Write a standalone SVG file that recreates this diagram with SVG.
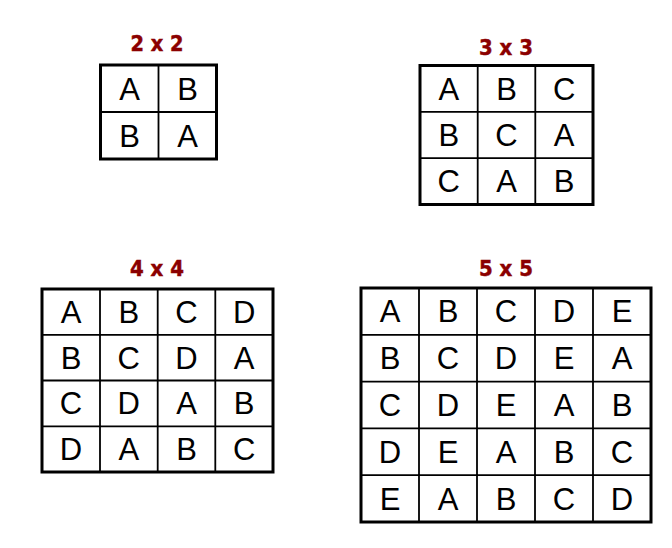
<svg xmlns="http://www.w3.org/2000/svg" width="672" height="548" viewBox="0 0 672 548">
<style>
.title{font-family:"DejaVu Sans",Verdana,sans-serif;font-weight:bold;font-size:21px;fill:#8b0000;stroke:#8b0000;stroke-width:0.5;text-anchor:middle}
.cell{font-family:"Liberation Sans",Arial,sans-serif;font-size:31px;fill:#000;text-anchor:middle}
.outer{fill:#fff;stroke:#000;stroke-width:3}
.inner{stroke:#000;stroke-width:1.8;fill:none}
</style>
<rect width="672" height="548" fill="#fff"/>
<g id="grid2">
<text class="title" x="157" y="51" textLength="53" lengthAdjust="spacingAndGlyphs">2 x 2</text>
<rect class="outer" x="100.5" y="65" width="116" height="94"/>
<path class="inner" d="M158.5 65V159M100.5 112H216.5"/>
<text class="cell" x="129.5" y="99.5">A</text><text class="cell" x="187.5" y="99.5">B</text>
<text class="cell" x="129.5" y="146.5">B</text><text class="cell" x="187.5" y="146.5">A</text>
</g>
<g id="grid3">
<text class="title" x="506" y="54.5" textLength="54" lengthAdjust="spacingAndGlyphs">3 x 3</text>
<rect class="outer" x="420" y="65.5" width="173" height="139"/>
<path class="inner" d="M477.7 65.5V204.5M535.3 65.5V204.5M420 111.8H593M420 158.2H593"/>
<text class="cell" x="448.8" y="99.6">A</text><text class="cell" x="506.5" y="99.6">B</text><text class="cell" x="564.2" y="99.6">C</text>
<text class="cell" x="448.8" y="146">B</text><text class="cell" x="506.5" y="146">C</text><text class="cell" x="564.2" y="146">A</text>
<text class="cell" x="448.8" y="192.4">C</text><text class="cell" x="506.5" y="192.4">A</text><text class="cell" x="564.2" y="192.4">B</text>
</g>
<g id="grid4">
<text class="title" x="157" y="276" textLength="54" lengthAdjust="spacingAndGlyphs">4 x 4</text>
<rect class="outer" x="42" y="289" width="231" height="183"/>
<path class="inner" d="M100 289V472M157.7 289V472M215.3 289V472M42 334.8H273M42 380.5H273M42 426.3H273"/>
<text class="cell" x="71" y="322.9">A</text><text class="cell" x="128.8" y="322.9">B</text><text class="cell" x="186.5" y="322.9">C</text><text class="cell" x="244.2" y="322.9">D</text>
<text class="cell" x="71" y="368.6">B</text><text class="cell" x="128.8" y="368.6">C</text><text class="cell" x="186.5" y="368.6">D</text><text class="cell" x="244.2" y="368.6">A</text>
<text class="cell" x="71" y="414.4">C</text><text class="cell" x="128.8" y="414.4">D</text><text class="cell" x="186.5" y="414.4">A</text><text class="cell" x="244.2" y="414.4">B</text>
<text class="cell" x="71" y="460.1">D</text><text class="cell" x="128.8" y="460.1">A</text><text class="cell" x="186.5" y="460.1">B</text><text class="cell" x="244.2" y="460.1">C</text>
</g>
<g id="grid5">
<text class="title" x="506" y="276" textLength="54" lengthAdjust="spacingAndGlyphs">5 x 5</text>
<rect class="outer" x="361" y="288" width="290" height="234"/>
<path class="inner" d="M419 288V522M477 288V522M535 288V522M593 288V522M361 334.8H651M361 381.6H651M361 428.4H651M361 475.2H651"/>
<text class="cell" x="390" y="322.4">A</text><text class="cell" x="448" y="322.4">B</text><text class="cell" x="506" y="322.4">C</text><text class="cell" x="564" y="322.4">D</text><text class="cell" x="622" y="322.4">E</text>
<text class="cell" x="390" y="369.2">B</text><text class="cell" x="448" y="369.2">C</text><text class="cell" x="506" y="369.2">D</text><text class="cell" x="564" y="369.2">E</text><text class="cell" x="622" y="369.2">A</text>
<text class="cell" x="390" y="416">C</text><text class="cell" x="448" y="416">D</text><text class="cell" x="506" y="416">E</text><text class="cell" x="564" y="416">A</text><text class="cell" x="622" y="416">B</text>
<text class="cell" x="390" y="462.8">D</text><text class="cell" x="448" y="462.8">E</text><text class="cell" x="506" y="462.8">A</text><text class="cell" x="564" y="462.8">B</text><text class="cell" x="622" y="462.8">C</text>
<text class="cell" x="390" y="509.6">E</text><text class="cell" x="448" y="509.6">A</text><text class="cell" x="506" y="509.6">B</text><text class="cell" x="564" y="509.6">C</text><text class="cell" x="622" y="509.6">D</text>
</g>
</svg>
